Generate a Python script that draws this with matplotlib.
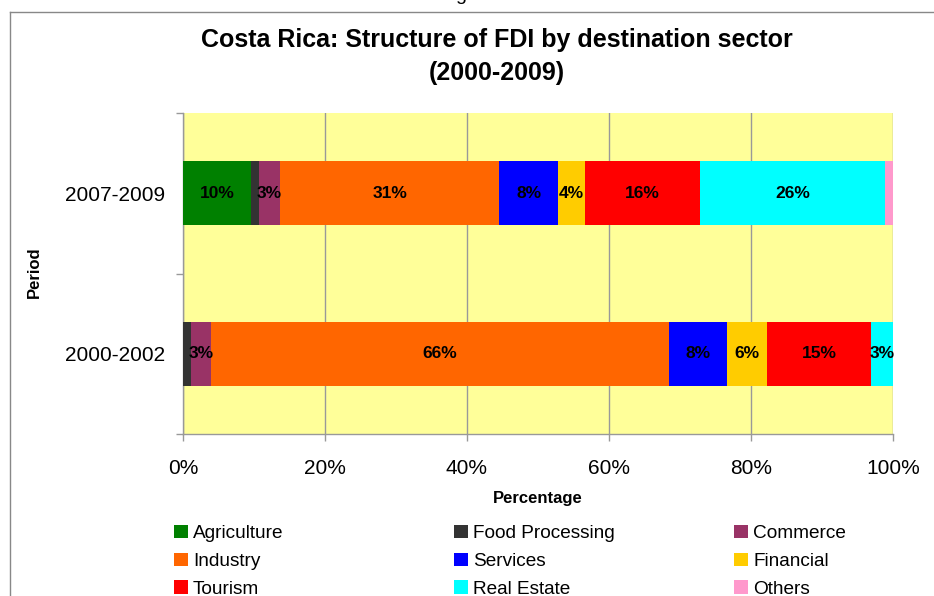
import matplotlib
matplotlib.use('Agg')
import matplotlib.pyplot as plt
from matplotlib.patches import Patch
from matplotlib.lines import Line2D
import numpy as np

plt.rcParams['font.family'] = ['Liberation Sans', 'DejaVu Sans']

# ---- data -------------------------------------------------------------
periods = ['2000-2002', '2007-2009']
sectors = ['Agriculture', 'Food Processing', 'Commerce', 'Industry', 'Services',
           'Financial', 'Tourism', 'Real Estate', 'Others']
colors = ['#008000', '#333333', '#993366', '#FF6600', '#0000FF',
          '#FFCC00', '#FF0000', '#00FFFF', '#FF99CC']
# shares (%) for [2000-2002, 2007-2009]
agriculture = [0.0, 9.6]
food_processing = [1.2, 1.1]
commerce = [2.8, 3.0]
industry = [66.0, 31.0]
services = [8.4, 8.3]
financial = [5.7, 3.8]
tourism = [15.1, 16.2]
real_estate = [3.1, 26.2]
others = [0.0, 1.1]
xticks = [0, 20, 40, 60, 80, 100]
xtick_labels = ['0%', '20%', '40%', '60%', '80%', '100%']

data = [agriculture, food_processing, commerce, industry, services,
        financial, tourism, real_estate, others]

# ---- figure -----------------------------------------------------------
W, H = 934, 596
fig = plt.figure(figsize=(W / 100, H / 100), dpi=100)
ax = fig.add_axes([183 / W, 1 - 434 / H, 710 / W, 321 / H])
ax.set_facecolor('#FFFF99')

y = np.arange(len(periods))
totals = np.sum(np.array(data), axis=0)
left = np.zeros(len(periods))
for name, vals, c in zip(sectors, data, colors):
    share = np.array(vals) / totals * 100
    bars = ax.barh(y, share, left=left, height=0.4, color=c, label=name, zorder=3)
    labels = [f'{v:.0f}%' if v >= 2 else '' for v in vals]
    ax.bar_label(bars, labels=labels, label_type='center', fontsize=12.5,
                 fontweight='bold', color='black', zorder=4)
    left += share

ax.set_xlim(0, 100)
ax.set_ylim(-0.5, len(periods) - 0.5)
ax.set_xticks(xticks)
ax.set_xticklabels(xtick_labels)
ax.grid(axis='x', color='#999999', lw=1.0, zorder=1)
ax.set_axisbelow(True)

# category boundaries as major ticks, labels at centers
ax.set_yticks(np.arange(-0.5, len(periods), 1.0))
ax.set_yticklabels([])
ax.set_yticks(y, minor=True)
ax.set_yticklabels(periods, minor=True)
ax.tick_params(axis='y', which='major', length=5, color='#999999', width=1)
ax.tick_params(axis='y', which='minor', length=0, pad=13, labelsize=15)
ax.tick_params(axis='x', length=5, color='#999999', width=1, pad=13, labelsize=15)

for s in ['top', 'right']:
    ax.spines[s].set_visible(False)
for s in ['left', 'bottom']:
    ax.spines[s].set_color('#999999')
    ax.spines[s].set_linewidth(1)

ax.set_xlabel('Percentage', fontsize=12, fontweight='bold')
ax.xaxis.set_label_coords(0.5, -0.178)
ax.set_ylabel('Period', fontsize=12, fontweight='bold')
ax.yaxis.set_label_coords(-0.199, 0.505)

# title
fig.text(497 / W, 1 - 47 / H, 'Costa Rica: Structure of FDI by destination sector',
         ha='center', va='baseline', fontsize=18, fontweight='bold')
fig.text(497 / W, 1 - 80 / H, '(2000-2009)',
         ha='center', va='baseline', fontsize=18, fontweight='bold')

# cut-off text fragment at the very top
fig.text(461 / W, 1.0, 'g', ha='center', va='baseline', fontsize=14)

# outer chart frame
fig.add_artist(Line2D([9.5 / W, 9.5 / W], [0, 1 - 12 / H], transform=fig.transFigure,
                      color='#888888', lw=1))
fig.add_artist(Line2D([9.5 / W, 1.0], [1 - 12 / H, 1 - 12 / H], transform=fig.transFigure,
                      color='#888888', lw=1))

# legend: three columns, row-wise order
handles = [Patch(facecolor=c, edgecolor='none') for c in colors]
col_x = [174, 454, 734]
for j in range(3):
    idx = [j, j + 3, j + 6]
    fig.legend([handles[i] for i in idx], [sectors[i] for i in idx],
               loc='upper left', bbox_to_anchor=(col_x[j] / W, 1 - 525 / H),
               bbox_transform=fig.transFigure, frameon=False, borderpad=0,
               borderaxespad=0, handlelength=0.75, handleheight=0.7,
               handletextpad=0.25, labelspacing=0.54, fontsize=13.7)

fig.savefig('out.png', dpi=100)
